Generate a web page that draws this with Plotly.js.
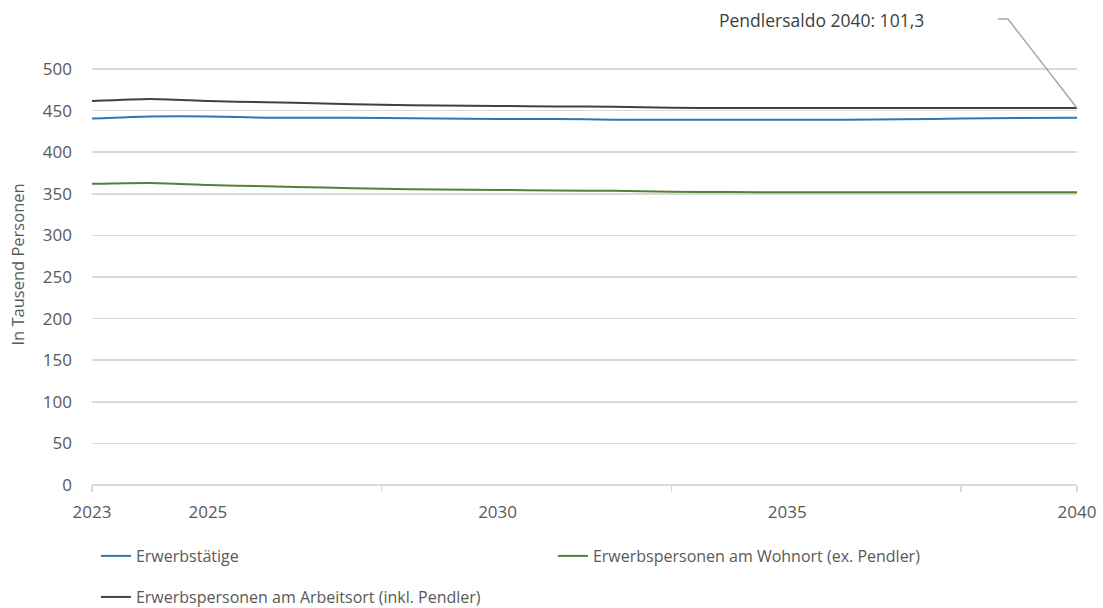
<!DOCTYPE html>
<html>
<head>
<meta charset="utf-8">
<script src="https://cdn.plot.ly/plotly-3.0.1.min.js"></script>
<style>html,body{margin:0;padding:0;background:#fff;}#chart{width:1103px;height:608px;}</style>
</head>
<body>
<div id="chart"></div>
<script>
const years = [2023,2024,2025,2026,2027,2028,2029,2030,2031,2032,2033,2034,2035,2036,2037,2038,2039,2040];
const erwerbstaetige = [440.5,443,443,441.5,441.5,441,440.5,440,440,439,439,439,439,439,439.5,440.5,441,441.5];
const wohnort = [362,363,360.5,359,357.5,356,355,354.5,354,353.5,352.5,352,351.8,351.7,351.7,351.7,351.7,351.7];
const arbeitsort = [461.5,464,461.5,460,458.5,457,456,455.5,455,454.5,453.5,453,453,453,453,453,453,453];
const seriesNames = ["Erwerbstätige","Erwerbspersonen am Wohnort (ex. Pendler)","Erwerbspersonen am Arbeitsort (inkl. Pendler)"];
const xTickVals = [2023,2025,2030,2035,2040];
const xTickText = ["2023","2025","2030","2035","2040"];
const xMarkVals = [2023,2028,2033,2038,2040];
const yTickVals = [0,50,100,150,200,250,300,350,400,450,500];
const yRange = [0,530];
const annotationText = "Pendlersaldo 2040: 101,3";

const FONT = "Open Sans, sans-serif";
const lineShape = {shape:'spline', smoothing:0.5, width:2};

const traces = [
  {x:years, y:erwerbstaetige, name:seriesNames[0], mode:'lines', line:Object.assign({color:'#2e75b6'}, lineShape), legend:'legend'},
  {x:years, y:wohnort, name:seriesNames[1], mode:'lines', line:Object.assign({color:'#548235'}, lineShape), legend:'legend'},
  {x:years, y:arbeitsort, name:seriesNames[2], mode:'lines', line:Object.assign({color:'#404040'}, lineShape), legend:'legend2'},
  {x:[years[0]], y:[null], xaxis:'x2', yaxis:'y', showlegend:false, hoverinfo:'skip', mode:'lines'}
];

const lastYear = years[years.length-1];
const lastBlack = arbeitsort[arbeitsort.length-1];

const layout = {
  width:1103, height:608,
  margin:{l:92, r:26, t:44, b:123, autoexpand:false},
  paper_bgcolor:'#fff', plot_bgcolor:'#fff',
  font:{family:FONT, color:'#595959', size:16},
  showlegend:true,
  xaxis:{
    range:[2023,2040], tickvals:xTickVals, ticktext:xTickText, ticks:'',
    showgrid:false, zeroline:false, showline:false,
    tickfont:{size:17, color:'#595959'}, ticklabelstandoff:15
  },
  xaxis2:{
    overlaying:'x', range:[2023,2040], tickvals:xMarkVals, showticklabels:false,
    ticks:'outside', ticklen:6, tickcolor:'#d9d9d9', tickwidth:1.5,
    showgrid:false, zeroline:false, showline:false, anchor:'y'
  },
  yaxis:{
    range:yRange, tickvals:yTickVals, ticks:'', showgrid:true, gridcolor:'#d9d9d9', gridwidth:1.5,
    zeroline:true, zerolinecolor:'#d9d9d9', zerolinewidth:1.5, showline:false,
    tickfont:{size:17, color:'#595959'}, ticklabelstandoff:19,
    title:{text:'In Tausend Personen', font:{size:16.5, color:'#595959'}, standoff:14}
  },
  legend:{orientation:'h', x:0.004, xanchor:'left', y:-0.161, yanchor:'middle',
    entrywidth:412, entrywidthmode:'pixels', font:{size:16, color:'#595959'}, bgcolor:'rgba(0,0,0,0)'},
  legend2:{orientation:'h', x:0.004, xanchor:'left', y:-0.254, yanchor:'middle',
    font:{size:16, color:'#595959'}, bgcolor:'rgba(0,0,0,0)'},
  annotations:[
    {xref:'paper', yref:'paper', x:0.741, y:1.054, text:annotationText, showarrow:false,
     font:{size:17.5, color:'#404040'}, xanchor:'center', yanchor:'middle'}
  ],
  shapes:[
    {type:'path', xref:'x', yref:'paper', xsizemode:'pixel', ysizemode:'pixel',
     xanchor:lastYear, yanchor:(lastBlack - yRange[0])/(yRange[1]-yRange[0]), path:'M0,0 L-69,89 L-79,89',
     line:{color:'#a6a6a6', width:1.5}}
  ]
};

Plotly.newPlot('chart', traces, layout, {displayModeBar:false, staticPlot:true});
</script>
</body>
</html>
